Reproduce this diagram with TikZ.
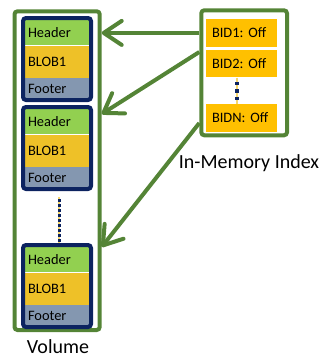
\documentclass[tikz,border=0pt]{standalone}
\usepackage{fontspec}
\setmainfont{Carlito}
\usetikzlibrary{arrows.meta,calc}

\definecolor{frgreen}{RGB}{84,132,54}
\definecolor{navy}{RGB}{12,35,96}
\definecolor{hdrgreen}{RGB}{146,208,80}
\definecolor{blobyellow}{RGB}{238,193,40}
\definecolor{ftrgray}{RGB}{132,151,176}
\definecolor{idxorange}{RGB}{255,192,0}
\definecolor{paleyellow}{RGB}{246,214,110}

\tikzset{
  part/.style={minimum width=64pt, text width=58pt, inner xsep=3pt, inner ysep=0pt,
    align=left, font=\fontsize{14.4}{16}\selectfont},
  hdr/.style={part, fill=hdrgreen, minimum height=25pt},
  blob/.style={part, fill=blobyellow, minimum height=32pt},
  ftr/.style={part, fill=ftrgray, minimum height=21pt},
  blockframe/.style={draw=navy, line width=4pt, rounded corners=3pt,
    minimum width=68pt, minimum height=82pt},
  greenframe/.style={draw=frgreen, line width=4pt, rounded corners=3pt},
  entry/.style={fill=idxorange, minimum width=71pt, minimum height=27.5pt,
    text width=59pt, inner xsep=6pt, inner ysep=0pt, align=left,
    font=\fontsize{14.4}{16}\selectfont\frenchspacing},
  caption/.style={font=\fontsize{20}{24}\selectfont, anchor=base},
  pointer/.style={draw=frgreen, line width=4pt,
    -{Straight Barb[length=18pt,width=24pt,line cap=round,line join=round]}},
  dotline/.style={draw=navy, line width=3pt, dash pattern=on 3pt off 2pt},
  dotback/.style={draw=paleyellow, line width=1.2pt}
}

\begin{document}
\begin{tikzpicture}[x=1pt,y=-1pt]
\useasboundingbox (0,0) rectangle (325,357);

% volume with three blob records
\node[greenframe, minimum width=85.2pt, minimum height=318.7pt] (vol) at (57.1,170.65) {};
\foreach \n/\t in {1/16,2/105,3/243}{
  \node[hdr,  anchor=north] (h\n) at (57,\t+4) {Header};
  \node[blob, anchor=north] (b\n) at (h\n.south) {BLOB1};
  \node[ftr,  anchor=north] (f\n) at (b\n.south) {Footer};
  \node[blockframe] (blk\n) at (57,\t+43) {};
}
\draw[dotback] ([xshift=2pt,yshift=-6pt]blk2.south) -- ([xshift=2pt]blk3.north);
\draw[dotline] ([xshift=2pt,yshift=-8pt]blk2.south) -- ([xshift=2pt]blk3.north);

% in-memory index
\node[greenframe, minimum width=85.7pt, minimum height=125pt] (index) at (244.15,72.8) {};
\node[entry] (bid1) at (241.5,32.9) {BID1: Off};
\node[entry] (bid2) at (241.5,63.7) {BID2: Off};
\node[entry] (bidn) at (241.5,117.9) {BIDN: Off};
\draw[dotback] ([xshift=-4.5pt]bid2.south) -- ([xshift=-4.5pt]bidn.north);
\draw[draw=navy, line width=3.5pt, dash pattern=on 3.5pt off 4pt]
  ([xshift=-4.5pt,yshift=-4pt]bid2.south) -- ([xshift=-4.5pt,yshift=4pt]bidn.north);

% labels
\node[caption] (idxlabel) at (249,168) {In-Memory Index};
\node[caption] (vollabel) at (58,353) {Volume};

% pointers from the index into the volume
\coordinate (s2) at ([yshift=20.8pt]index.west);
\coordinate (s3) at ([yshift=-50.2pt]index.west);
\coordinate (e2) at ([yshift=56.65pt]vol.east);
\coordinate (e3) at ([yshift=-76.35pt]vol.east);
\draw[pointer] (index.west |- bid1.center) -- (vol.east |- bid1.center);
\draw[pointer] (s2) -- (e2);
\draw[pointer] (s3) -- (e3);
\end{tikzpicture}
\end{document}
